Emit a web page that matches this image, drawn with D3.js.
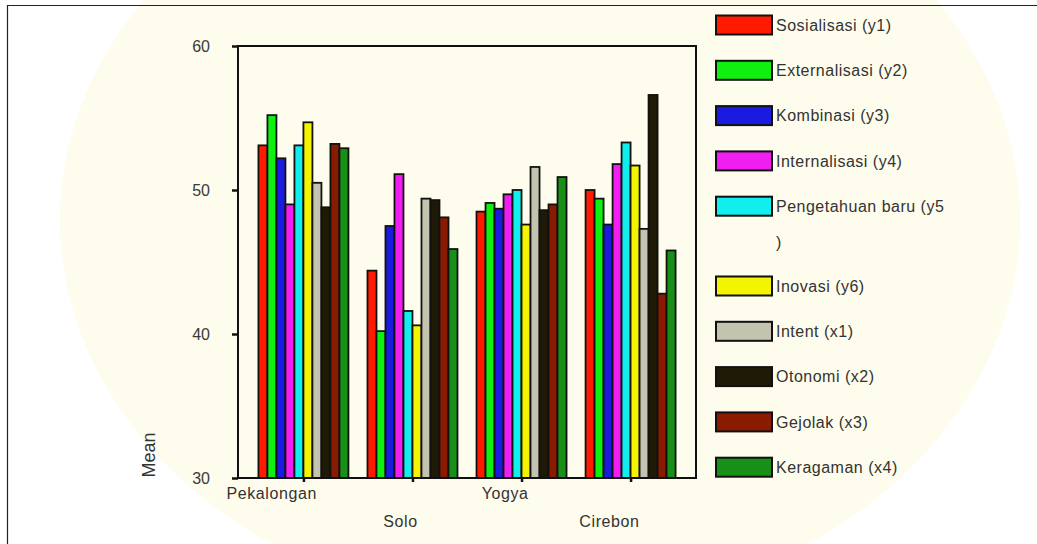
<!DOCTYPE html>
<html>
<head>
<meta charset="utf-8">
<script src="https://cdn.jsdelivr.net/npm/d3@7"></script>
<style>
  body { margin: 0; background: #fff; }
  svg { display: block; font-family: "Liberation Sans", Arial, sans-serif; }
</style>
</head>
<body>
<div id="chart"></div>
<script>
// data
const cities = ["Pekalongan", "Solo", "Yogya", "Cirebon"];
const seriesNames = ["Sosialisasi (y1)", "Externalisasi (y2)", "Kombinasi (y3)", "Internalisasi (y4)",
  "Pengetahuan baru (y5)", "Inovasi (y6)", "Intent (x1)", "Otonomi (x2)", "Gejolak (x3)", "Keragaman (x4)"];
const pekalongan = [53.1, 55.2, 52.2, 49.0, 53.1, 54.7, 50.5, 48.8, 53.2, 52.9];
const solo       = [44.4, 40.2, 47.5, 51.1, 41.6, 40.6, 49.4, 49.3, 48.1, 45.9];
const yogya      = [48.5, 49.1, 48.7, 49.7, 50.0, 47.6, 51.6, 48.6, 49.0, 50.9];
const cirebon    = [50.0, 49.4, 47.6, 51.8, 53.3, 51.7, 47.3, 56.6, 42.8, 45.8];
const yTicks = [30, 40, 50, 60];

const colors = ["#ff1a00", "#10f010", "#1a1ae0", "#f01ef0", "#10eeee", "#f4f400",
  "#c3c3b0", "#1e1a05", "#8a1a00", "#189018"];

const values = [pekalongan, solo, yogya, cirebon];
const rows = [];
cities.forEach((c, ci) => {
  seriesNames.forEach((s, si) => rows.push({ city: c, series: s, idx: si, value: values[ci][si] }));
});

const W = 1037, H = 544;
const plot = { left: 238, right: 696, top: 46, bottom: 478 };

const svg = d3.select("#chart").append("svg")
  .attr("width", W).attr("height", H);

// faint page tint (scan watermark) and page frame
svg.append("ellipse")
  .attr("cx", 540).attr("cy", 220).attr("rx", 480).attr("ry", 390)
  .attr("fill", "#fefcec");
svg.append("path")
  .attr("d", `M7.5,${H} V5.5 H${W}`)
  .attr("fill", "none").attr("stroke", "#222").attr("stroke-width", 1.2);

// scales
const x = d3.scalePoint()
  .domain(cities)
  .range([plot.left, plot.right])
  .padding(0.6);

const barW = 9;
const xs = d3.scaleBand()
  .domain(seriesNames)
  .range([-barW * seriesNames.length / 2, barW * seriesNames.length / 2]);

const y = d3.scaleLinear()
  .domain([30, 60])
  .range([plot.bottom, plot.top]);

const color = d3.scaleOrdinal().domain(seriesNames).range(colors);

// bars
svg.append("g")
  .selectAll("rect")
  .data(rows)
  .join("rect")
    .attr("x", d => x(d.city) + xs(d.series))
    .attr("y", d => y(d.value))
    .attr("width", xs.bandwidth())
    .attr("height", d => y(30) - y(d.value))
    .attr("fill", d => color(d.series))
    .attr("stroke", "#111")
    .attr("stroke-width", 1.8);

// plot frame
svg.append("rect")
  .attr("x", plot.left).attr("y", plot.top)
  .attr("width", plot.right - plot.left).attr("height", plot.bottom - plot.top)
  .attr("fill", "none").attr("stroke", "#111").attr("stroke-width", 2);

// y axis
const yAxis = svg.append("g")
  .attr("transform", `translate(${plot.left},0)`)
  .call(d3.axisLeft(y).tickValues(yTicks).tickSize(6).tickPadding(22));
yAxis.select(".domain").remove();
yAxis.selectAll("line").attr("stroke", "#111").attr("stroke-width", 2.5);
yAxis.selectAll("text")
  .style("font-size", "16px")
  .style("font-family", "'Liberation Sans', Arial, sans-serif")
  .attr("fill", "#3a3a3a");

svg.append("text")
  .attr("transform", `translate(155,455) rotate(-90)`)
  .attr("text-anchor", "middle")
  .style("font-size", "18px")
  .attr("fill", "#333")
  .text("Mean");

// x axis ticks and staggered labels
const xAxis = svg.append("g")
  .attr("transform", `translate(0,${plot.bottom})`)
  .call(d3.axisBottom(x).tickSize(4).tickFormat(""));
xAxis.select(".domain").remove();
xAxis.selectAll("line").attr("stroke", "#111").attr("stroke-width", 2.5);

svg.append("g")
  .selectAll("text")
  .data(cities)
  .join("text")
    .attr("x", d => x(d))
    .attr("y", (d, i) => i % 2 === 0 ? 493 : 521)
    .attr("dy", "0.35em")
    .attr("text-anchor", "middle")
    .style("font-size", "16px")
    .style("letter-spacing", "0.6px")
    .attr("fill", "#333")
    .text(d => d)
    .each(function() {
      const w = this.getComputedTextLength();
      d3.select(this).attr("dx", -0.35 * w);
    });

// legend
const legX = 716, textX = 776, maxTextW = 170;
const rowGap = 45.3, lineH = 36;
const legend = svg.append("g");
let extra = 0;
seriesNames.forEach((name, i) => {
  const cy = 25 + rowGap * i + (lineH - 1.5) * extra;
  legend.append("rect")
    .attr("x", legX).attr("y", cy - 9.5)
    .attr("width", 56).attr("height", 19)
    .attr("fill", color(name))
    .attr("stroke", "#111").attr("stroke-width", 2);

  // wrap characters that do not fit onto a new line
  const t = legend.append("text")
    .attr("x", textX).attr("y", cy)
    .style("font-size", "16px")
    .style("letter-spacing", "0.5px")
    .attr("fill", "#333");
  const lines = [];
  let cur = "";
  for (const ch of name) {
    t.text(cur + ch);
    if (t.node().getComputedTextLength() > maxTextW && cur.length) {
      lines.push(cur);
      cur = ch;
    } else {
      cur += ch;
    }
  }
  lines.push(cur);
  t.text(null);
  lines.forEach((ln, li) => {
    t.append("tspan").attr("x", textX).attr("dy", li === 0 ? "0.35em" : lineH).text(ln);
  });
  extra += lines.length - 1;
});
</script>
</body>
</html>
